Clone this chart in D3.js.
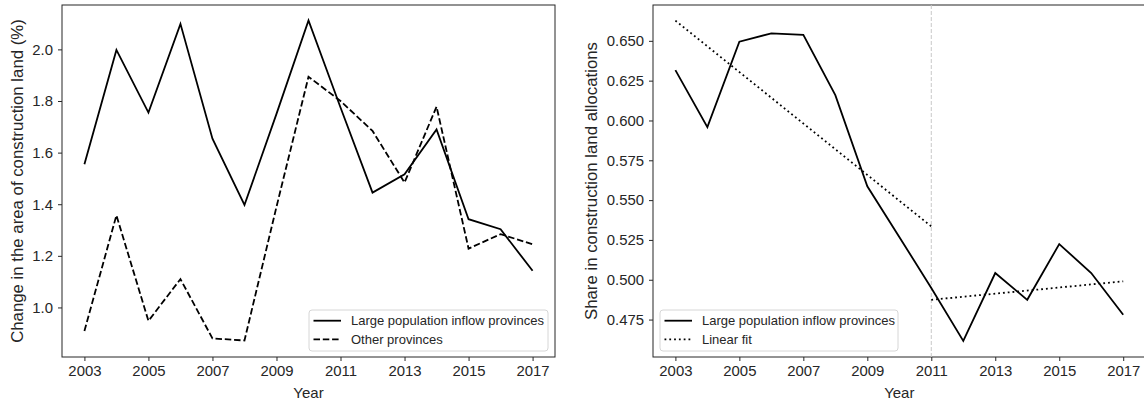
<!DOCTYPE html>
<html>
<head>
<meta charset="utf-8">
<script src="https://cdn.jsdelivr.net/npm/d3@7"></script>
<style>
  body { margin: 0; background: #fff; }
  svg text { font-family: "Liberation Sans", Arial, sans-serif; fill: #262626; }
</style>
</head>
<body>
<svg id="chart" width="1144" height="405"></svg>
<script>
// DATA
const years = [2003, 2004, 2005, 2006, 2007, 2008, 2009, 2010, 2011, 2012, 2013, 2014, 2015, 2016, 2017];
const inflowChange = [1.555, 1.998, 1.755, 2.099, 1.654, 1.397, 1.75, 2.112, 1.775, 1.445, 1.516, 1.690, 1.342, 1.303, 1.142];
const otherChange = [0.909, 1.357, 0.948, 1.110, 0.880, 0.872, 1.39, 1.894, 1.80, 1.684, 1.484, 1.778, 1.228, 1.284, 1.245];
const inflowShare = [0.6316, 0.5958, 0.6495, 0.6547, 0.6537, 0.6159, 0.5587, 0.5269, 0.4948, 0.4616, 0.5042, 0.4874, 0.5224, 0.5042, 0.4780];
const fitBeforeYears = [2003, 2011];
const fitBeforeValues = [0.6627, 0.5335];
const fitAfterYears = [2011, 2017];
const fitAfterValues = [0.4874, 0.4990];
const breakYear = 2011;
const xTicks = [2003, 2005, 2007, 2009, 2011, 2013, 2015, 2017];
const leftYTicks = [1.0, 1.2, 1.4, 1.6, 1.8, 2.0];
const rightYTicks = [0.475, 0.500, 0.525, 0.550, 0.575, 0.600, 0.625, 0.650];

const svg = d3.select("#chart");
const ink = "#262626";

// SETUP
function panel(opts) {
    const x = d3.scaleLinear().domain([2002.3, 2017.7]).range([opts.left, opts.right]);
    const y = d3.scaleLinear().domain(opts.yDomain).range([357, 5]);
    const g = svg.append("g");

    const xAxis = g.append("g")
        .attr("transform", "translate(0,357)")
        .call(d3.axisBottom(x).tickValues(xTicks).tickFormat(d3.format("d")).tickSize(4).tickPadding(4).tickSizeOuter(0));
    const yAxis = g.append("g")
        .attr("transform", "translate(" + opts.left + ",0)")
        .call(d3.axisLeft(y).tickValues(opts.yTicks).tickFormat(d3.format(opts.fmt)).tickSize(4).tickPadding(5).tickSizeOuter(0));
    [xAxis, yAxis].forEach(function (a) {
        a.select(".domain").remove();
        a.selectAll(".tick line").attr("stroke", ink).attr("stroke-width", 1);
        a.selectAll(".tick text").style("font-size", "14.9px").attr("fill", ink);
    });

    g.append("rect")
        .attr("x", opts.left).attr("y", 5)
        .attr("width", opts.right - opts.left).attr("height", 352)
        .attr("fill", "none").attr("stroke", ink).attr("stroke-width", 1);

    g.append("text")
        .attr("x", (opts.left + opts.right) / 2).attr("y", 398)
        .attr("text-anchor", "middle")
        .style("font-size", "15px")
        .text("Year");

    g.append("text")
        .attr("transform", "translate(" + opts.labelX + ",181) rotate(-90)")
        .attr("text-anchor", "middle")
        .style("font-size", "16.8px")
        .text(opts.yLabel);

    return {g: g, x: x, y: y};
}

function drawLine(p, xs, ys, dash) {
    const line = d3.line().x(function (d) { return p.x(d[0]); }).y(function (d) { return p.y(d[1]); });
    p.g.append("path")
        .datum(d3.zip(xs, ys))
        .attr("d", line)
        .attr("fill", "none")
        .attr("stroke", "#000")
        .attr("stroke-width", 1.8)
        .attr("stroke-dasharray", dash);
}

function legend(p, x0, w, items) {
    const lg = p.g.append("g");
    lg.append("rect")
        .attr("x", x0).attr("y", 310).attr("width", w).attr("height", 41)
        .attr("rx", 3)
        .attr("fill", "#fff").attr("fill-opacity", 0.8)
        .attr("stroke", "#d6d6d6").attr("stroke-width", 1);
    items.forEach(function (it, i) {
        const yy = 320.7 + i * 18.6;
        lg.append("line")
            .attr("x1", x0 + 4.5).attr("x2", x0 + 32)
            .attr("y1", yy).attr("y2", yy)
            .attr("stroke", "#000").attr("stroke-width", 1.8)
            .attr("stroke-dasharray", it.dash);
        lg.append("text")
            .attr("x", x0 + 42).attr("y", yy + 4.6)
            .style("font-size", "13px")
            .text(it.label);
    });
}

// LEFT PANEL
const left = panel({
    left: 62, right: 555, yDomain: [0.808, 2.172], yTicks: leftYTicks, fmt: ".1f",
    labelX: 22.7, yLabel: "Change in the area of construction land (%)"
});
drawLine(left, years, inflowChange, null);
drawLine(left, years, otherChange, "6.5,2.8");
legend(left, 309, 239, [
    {label: "Large population inflow provinces", dash: null},
    {label: "Other provinces", dash: "6.5,2.8"}
]);

// RIGHT PANEL
const right = panel({
    left: 653, right: 1145.6, yDomain: [0.4515, 0.6725], yTicks: rightYTicks, fmt: ".3f",
    labelX: 597.3, yLabel: "Share in construction land allocations"
});
right.g.append("line")
    .attr("x1", right.x(breakYear)).attr("x2", right.x(breakYear))
    .attr("y1", 5).attr("y2", 357)
    .attr("stroke", "#c8c8c8").attr("stroke-width", 1)
    .attr("stroke-dasharray", "4,2");
drawLine(right, years, inflowShare, null);
drawLine(right, fitBeforeYears, fitBeforeValues, "1.8,3");
drawLine(right, fitAfterYears, fitAfterValues, "1.8,3");
legend(right, 660, 238, [
    {label: "Large population inflow provinces", dash: null},
    {label: "Linear fit", dash: "1.8,3"}
]);
</script>
</body>
</html>
